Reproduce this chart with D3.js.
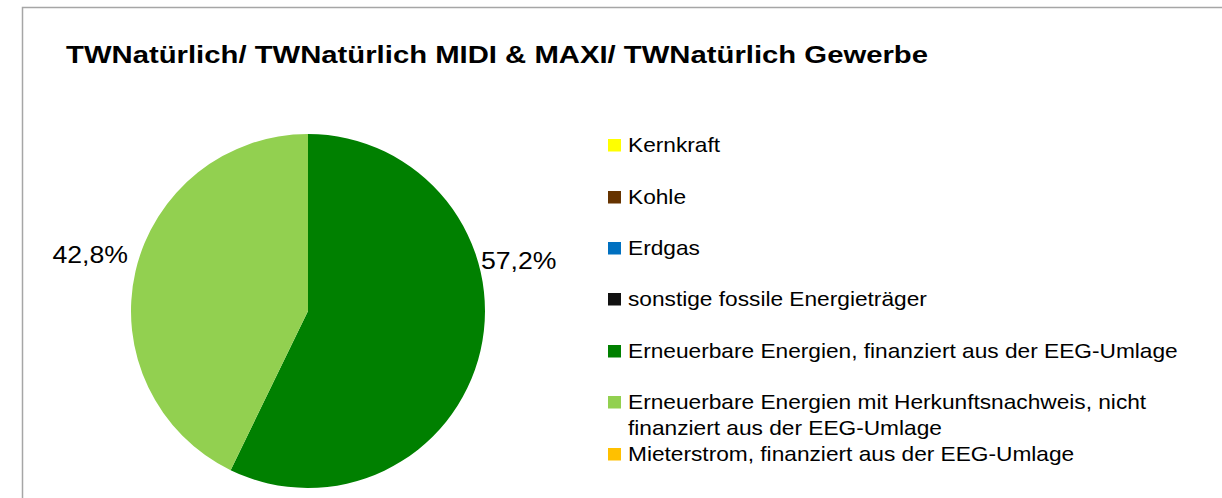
<!DOCTYPE html>
<html><head><meta charset="utf-8">
<script src="https://cdn.jsdelivr.net/npm/d3@7"></script>
<style>html,body{margin:0;padding:0;background:#fff;}svg{display:block;}</style>
</head><body>
<script>
const title = "TWNatürlich/ TWNatürlich MIDI & MAXI/ TWNatürlich Gewerbe";
const categories = ["Kernkraft","Kohle","Erdgas","sonstige fossile Energieträger","Erneuerbare Energien, finanziert aus der EEG-Umlage","Erneuerbare Energien mit Herkunftsnachweis, nicht finanziert aus der EEG-Umlage","Mieterstrom, finanziert aus der EEG-Umlage"];
const legendLines = [["Kernkraft"],["Kohle"],["Erdgas"],["sonstige fossile Energieträger"],["Erneuerbare Energien, finanziert aus der EEG-Umlage"],["Erneuerbare Energien mit Herkunftsnachweis, nicht","finanziert aus der EEG-Umlage"],["Mieterstrom, finanziert aus der EEG-Umlage"]];
const values = [0, 0, 0, 0, 57.2, 42.8, 0];
const colors = ["#FFFF00","#663300","#0070C0","#111111","#008000","#92D050","#FFC000"];

const W = 1222, H = 498;
const FONT = "Liberation Sans, Arial, sans-serif";
const svg = d3.select("body").append("svg").attr("width", W).attr("height", H);
svg.append("rect").attr("x", 22.5).attr("y", 7.5).attr("width", 1400).attr("height", 800)
  .attr("fill", "#fff").attr("stroke", "#a6a6a6").attr("stroke-width", 1.5);

svg.append("g").attr("transform", "translate(66,63) scale(1.22,1)")
  .append("text").attr("x", 0).attr("y", 0)
  .attr("font-family", FONT).attr("font-weight", "bold")
  .attr("font-size", 24).attr("fill", "#000").text(title);

const cx = 308, cy = 311, r = 177;
const color = d3.scaleOrdinal().domain(categories).range(colors);
const data = categories.map((c, i) => ({cat: c, val: values[i]}));
const pie = d3.pie().sort(null).value(d => d.val);
const arc = d3.arc().innerRadius(0).outerRadius(r);
const arcs = pie(data);
const g = svg.append("g").attr("transform", `translate(${cx},${cy})`);
g.selectAll("path").data(arcs.filter(d => d.data.val > 0)).join("path")
  .attr("d", arc).attr("fill", d => color(d.data.cat));

// data labels
const fmt = v => d3.format(".1f")(v).replace(".", ",") + "%";
arcs.filter(d => d.data.val > 0).forEach(d => {
  const mid = (d.startAngle + d.endAngle) / 2;
  const right = Math.sin(mid) > 0;
  g.append("g")
    .attr("transform", `translate(${right ? r - 4 : -r - 3},${right ? -42 : -48}) scale(1.11,1)`)
    .append("text")
    .attr("text-anchor", right ? "start" : "end")
    .attr("font-family", FONT)
    .attr("font-size", 24).attr("fill", "#000")
    .text(fmt(d.data.val));
});

// legend
const lx = 608;
const baselines = [152, 204, 255, 306, 358, 409, 461];
const lg = svg.append("g");
categories.forEach((c, i) => {
  const b = baselines[i];
  lg.append("rect").attr("x", lx).attr("y", b - 13).attr("width", 13).attr("height", 12.5)
    .attr("fill", color(c));
  const t = lg.append("g").attr("transform", `translate(${lx + 20},${b}) scale(1.135,1)`)
    .append("text").attr("x", 0).attr("y", 0)
    .attr("font-family", FONT).attr("font-size", 20).attr("fill", "#000");
  legendLines[i].forEach((ln, j) => {
    t.append("tspan").attr("x", 0).attr("dy", j === 0 ? 0 : 26).text(ln);
  });
});
</script>
</body></html>
